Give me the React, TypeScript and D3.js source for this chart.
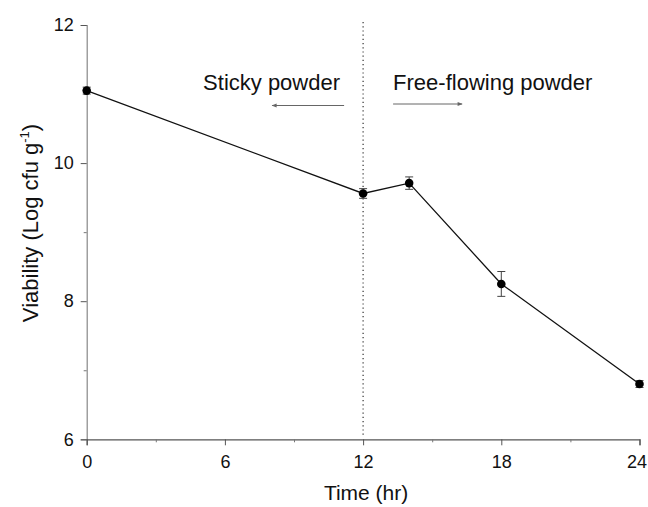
import React, { useRef, useEffect } from "react";
import * as d3 from "d3";

// data
const hours = [0, 12, 14, 18, 24];
const viability = [11.05, 9.56, 9.71, 8.25, 6.8];
const viabilityErr = [0.05, 0.07, 0.09, 0.18, 0.05];
const xTicks = [0, 6, 12, 18, 24];
const xMinorTicks = [3, 9, 15, 21];
const yTicks = [6, 8, 10, 12];
const yMinorTicks = [7, 9, 11];
const phaseLabels = ["Sticky powder", "Free-flowing powder"];
const phaseSplit = 12;

const FONT = "'Liberation Sans', Arial, Helvetica, sans-serif";

const drawChart = (svgRef) => {
	const width = 648,
		height = 507;
	const left = 86.7,
		right = 639.5,
		top = 25,
		bottom = 439.3;

	const svg = d3.select(svgRef.current);
	svg.selectAll("*").remove();
	svg.attr("width", width).attr("height", height);

	const x = d3.scaleLinear().domain([0, 24]).range([left, right]);
	const y = d3.scaleLinear().domain([6, 12]).range([bottom, top]);

	const points = hours.map((h, i) => ({
		h,
		v: viability[i],
		e: viabilityErr[i],
	}));

	// y axis
	const yAxis = svg
		.append("g")
		.attr("transform", "translate(" + left + ",0)")
		.call(d3.axisLeft(y).tickValues(yTicks).tickSize(6).tickPadding(7).tickFormat(d3.format("d")));
	yAxis.select(".domain").attr("stroke", "#888").attr("stroke-width", 1.2);
	yAxis.selectAll(".tick line").attr("stroke", "#555");
	yAxis
		.selectAll("text")
		.attr("font-family", FONT)
		.attr("font-size", 18)
		.attr("fill", "#111");
	svg
		.append("g")
		.attr("transform", "translate(" + left + ",0)")
		.call(d3.axisLeft(y).tickValues(yMinorTicks).tickSize(3).tickFormat(() => ""))
		.call((g) => g.select(".domain").remove())
		.selectAll("line")
		.attr("stroke", "#777");

	// x axis
	const xAxis = svg
		.append("g")
		.attr("transform", "translate(0," + bottom + ")")
		.call(d3.axisBottom(x).tickValues(xTicks).tickSize(6).tickPadding(10).tickFormat(d3.format("d")));
	xAxis.select(".domain").attr("stroke", "#555").attr("stroke-width", 1.2);
	xAxis.selectAll(".tick line").attr("stroke", "#555");
	xAxis
		.selectAll("text")
		.attr("font-family", FONT)
		.attr("font-size", 18)
		.attr("fill", "#111")
		.attr("dx", (d) => (d === 24 ? -3 : 0));
	svg
		.append("g")
		.attr("transform", "translate(0," + bottom + ")")
		.call(d3.axisBottom(x).tickValues(xMinorTicks).tickSize(3).tickFormat(() => ""))
		.call((g) => g.select(".domain").remove())
		.selectAll("line")
		.attr("stroke", "#777");

	// dotted divider at 12 h
	svg
		.append("line")
		.attr("x1", x(phaseSplit))
		.attr("x2", x(phaseSplit))
		.attr("y1", top - 3)
		.attr("y2", bottom - 3)
		.attr("stroke", "#333")
		.attr("stroke-width", 1.2)
		.attr("stroke-dasharray", "1.2,3");

	// annotations
	svg
		.append("text")
		.attr("x", x(phaseSplit) - 160)
		.attr("y", 90)
		.attr("font-family", FONT)
		.attr("font-size", 22)
		.attr("fill", "#111")
		.text(phaseLabels[0]);
	svg
		.append("text")
		.attr("x", x(phaseSplit) + 30)
		.attr("y", 89.5)
		.attr("font-family", FONT)
		.attr("font-size", 22)
		.attr("fill", "#111")
		.text(phaseLabels[1]);

	const defs = svg.append("defs");
	defs
		.append("marker")
		.attr("id", "ah")
		.attr("viewBox", "0 0 10 10")
		.attr("refX", 9)
		.attr("refY", 5)
		.attr("markerWidth", 7)
		.attr("markerHeight", 5)
		.attr("orient", "auto")
		.append("path")
		.attr("d", "M0,1 L10,5 L0,9 Z")
		.attr("fill", "#666");

	svg
		.append("line")
		.attr("x1", x(phaseSplit) - 19)
		.attr("x2", x(phaseSplit) - 91)
		.attr("y1", 105.5)
		.attr("y2", 105.5)
		.attr("stroke", "#666")
		.attr("stroke-width", 1)
		.attr("marker-end", "url(#ah)");
	svg
		.append("line")
		.attr("x1", x(phaseSplit) + 30)
		.attr("x2", x(phaseSplit) + 99)
		.attr("y1", 104)
		.attr("y2", 104)
		.attr("stroke", "#666")
		.attr("stroke-width", 1)
		.attr("marker-end", "url(#ah)");

	// series line
	const line = d3
		.line()
		.x((d) => x(d.h))
		.y((d) => y(d.v));
	svg
		.append("path")
		.datum(points)
		.attr("d", line)
		.attr("fill", "none")
		.attr("stroke", "#111")
		.attr("stroke-width", 1.3);

	// error bars
	const eb = svg.selectAll("g.err").data(points).enter().append("g").attr("class", "err");
	eb.append("line")
		.attr("x1", (d) => x(d.h))
		.attr("x2", (d) => x(d.h))
		.attr("y1", (d) => y(d.v - d.e))
		.attr("y2", (d) => y(d.v + d.e))
		.attr("stroke", "#444");
	eb.append("line")
		.attr("x1", (d) => x(d.h) - 4)
		.attr("x2", (d) => x(d.h) + 4)
		.attr("y1", (d) => y(d.v + d.e))
		.attr("y2", (d) => y(d.v + d.e))
		.attr("stroke", "#444");
	eb.append("line")
		.attr("x1", (d) => x(d.h) - 4)
		.attr("x2", (d) => x(d.h) + 4)
		.attr("y1", (d) => y(d.v - d.e))
		.attr("y2", (d) => y(d.v - d.e))
		.attr("stroke", "#444");

	// points
	svg
		.selectAll("circle.pt")
		.data(points)
		.enter()
		.append("circle")
		.attr("class", "pt")
		.attr("cx", (d) => x(d.h))
		.attr("cy", (d) => y(d.v))
		.attr("r", 4.3)
		.attr("fill", "#000");

	// axis titles
	svg
		.append("text")
		.attr("x", (left + right) / 2 + 3)
		.attr("y", 500)
		.attr("text-anchor", "middle")
		.attr("font-family", FONT)
		.attr("font-size", 21)
		.attr("fill", "#111")
		.text("Time (hr)");

	const yt = svg
		.append("text")
		.attr("transform", "translate(38," + 223 + ") rotate(-90)")
		.attr("text-anchor", "middle")
		.attr("font-family", FONT)
		.attr("font-size", 22)
		.attr("fill", "#111");
	yt.append("tspan").text("Viability (Log cfu g");
	yt.append("tspan").attr("font-size", 13).attr("dy", -9).text("-1");
	yt.append("tspan").attr("dy", 9).text(")");

	return svg;
};

const App = () => {
	const svg = useRef(null);

	useEffect(() => {
		drawChart(svg);
	}, []);

	return (
		<div style={{ position: "absolute", left: 0, top: 0, background: "#fff" }}>
			<svg ref={svg} style={{ display: "block" }} />
		</div>
	);
};

export default App;
